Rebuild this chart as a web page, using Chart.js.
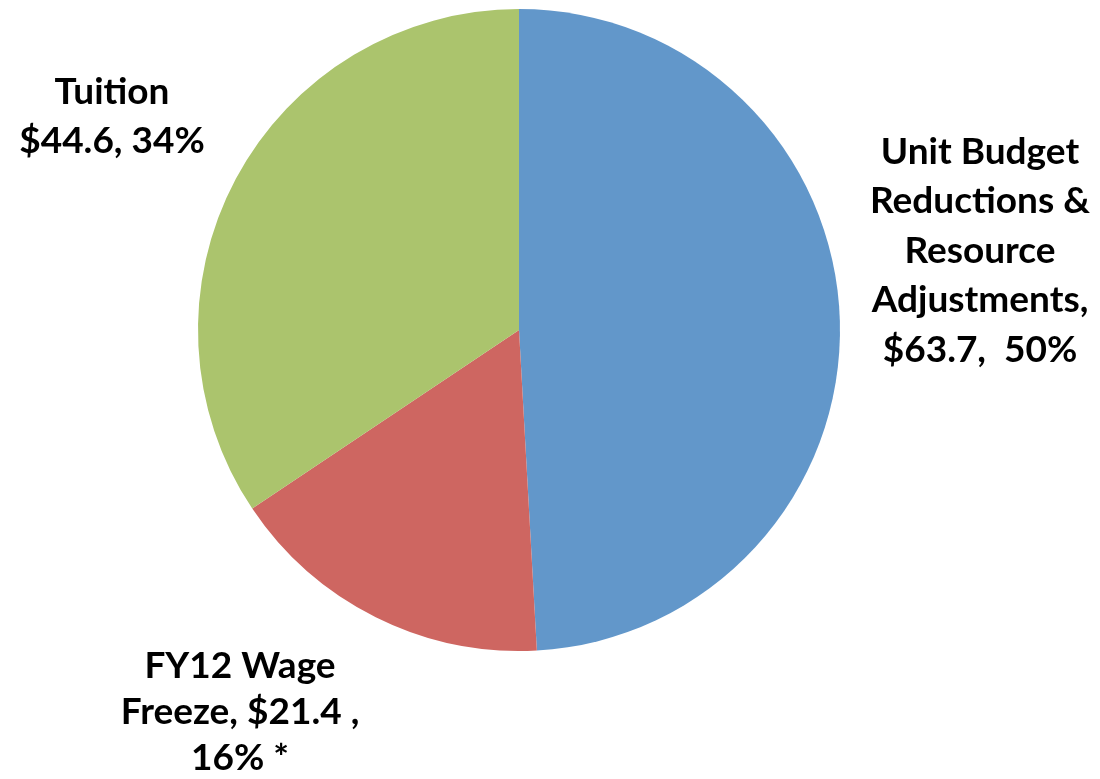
<!DOCTYPE html>
<html>
<head>
<meta charset="utf-8">
<script src="https://cdn.jsdelivr.net/npm/chart.js@4/dist/chart.umd.min.js"></script>
<style>
  html, body { margin: 0; padding: 0; background: #ffffff; }
  #wrap { width: 1100px; height: 779px; position: relative; }
</style>
</head>
<body>
<div id="wrap"><canvas id="budgetPie"></canvas></div>
<script>
// Slice data ($ millions)
const sliceNames = ["Unit Budget Reductions & Resource Adjustments", "FY12 Wage Freeze", "Tuition"];
const sliceValues = [63.7, 21.4, 44.6];
const slicePercents = ["50%", "16%", "34%"];
const sliceColors = ["#6297CA", "#CE6661", "#ABC46D"];

// Label text as shown on the chart, one entry per line
const sliceLabelLines = [
    ["Unit Budget", "Reductions &", "Resource", "Adjustments,", "$63.7,  50%"],
    ["FY12 Wage", "Freeze, $21.4 ,", "16% *"],
    ["Tuition", "$44.6, 34%"]
];

// Where each label block sits (centre x, first line y) and its line spacing
const labelPlacement = [
    { x: 980, y: 152, step: 49.5 },
    { x: 240, y: 666, step: 46 },
    { x: 112, y: 92, step: 49 }
];

const outsideLabels = {
    id: "outsideLabels",
    afterDraw(chart) {
        const ctx = chart.ctx;
        ctx.save();
        ctx.fillStyle = "#000000";
        ctx.font = "bold 37px Lato";
        ctx.textAlign = "center";
        ctx.textBaseline = "middle";
        sliceLabelLines.forEach((lines, i) => {
            const p = labelPlacement[i];
            lines.forEach((line, j) => {
                ctx.fillText(line, p.x, p.y + j * p.step);
            });
        });
        ctx.restore();
    }
};

new Chart(document.getElementById("budgetPie").getContext("2d"), {
    type: "pie",
    data: {
        labels: sliceNames,
        datasets: [
            {
                data: sliceValues,
                backgroundColor: sliceColors,
                borderWidth: 0,
            },
        ],
    },
    options: {
        responsive: true,
        maintainAspectRatio: false,
        animation: false,
        layout: {
            padding: { left: 198, right: 260, top: 9, bottom: 128 },
        },
        plugins: {
            legend: { display: false },
            tooltip: { enabled: false },
        },
    },
    plugins: [outsideLabels],
});
</script>
</body>
</html>
